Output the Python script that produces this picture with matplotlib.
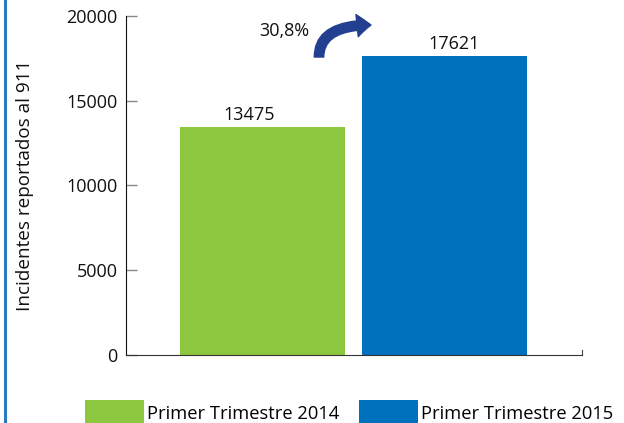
import matplotlib
matplotlib.use('Agg')
import matplotlib.pyplot as plt
from matplotlib.lines import Line2D

plt.rcParams['font.family'] = ['Open Sans', 'DejaVu Sans']

categorias = ['Primer Trimestre 2014', 'Primer Trimestre 2015']
incidentes = [13475, 17621]
colores = ['#8dc63f', '#0071bc']
variacion = '30,8%'
yticks = [0, 5000, 10000, 15000, 20000]

fig = plt.figure(figsize=(6.24, 4.23), dpi=100)
ax = fig.add_axes([126/624, 1-355/423, (582-126)/624, (355-16)/423])

pos = range(len(incidentes))
barras = ax.bar(pos, incidentes, width=0.907, color=colores, label=categorias)

# etiquetas de valor (ligeramente descentradas como en el original)
desplaz = [-9.8, 6.8]
for x, v, dx in zip(pos, incidentes, desplaz):
    ax.annotate(str(v), (x, v), xytext=(dx, 5), textcoords='offset points',
                ha='center', va='baseline', fontsize=13, color='#111111')

ax.set_xlim(-0.75, 1.755)
ax.set_ylim(0, 20000)
ax.set_yticks(yticks)
ax.set_xticks([])
ax.tick_params(axis='y', direction='in', length=8, width=1, color='#888888',
               labelsize=13, pad=6, labelcolor='#111111')
ax.set_ylabel('Incidentes reportados al 911', fontsize=13.6, labelpad=23, color='#111111')

ax.spines['top'].set_visible(False)
ax.spines['right'].set_bounds(0, 300)
ax.spines['right'].set_color('#444444')
ax.spines['left'].set_color('#111111')
ax.spines['bottom'].set_color('#333333')

# flecha curva y porcentaje
ax.annotate('', xy=(371, 398), xytext=(319, 366), xycoords='figure pixels',
            textcoords='figure pixels',
            arrowprops=dict(arrowstyle='simple,head_length=10,head_width=16,tail_width=6.8',
                            connectionstyle='angle3,angleA=90,angleB=0',
                            color='#233f8f', shrinkA=0, shrinkB=0, mutation_scale=1))
fig.text(309/624, 1-36/423, variacion, ha='right', va='baseline', fontsize=13, color='#111111')

# borde azul izquierdo
fig.add_artist(Line2D([5/624, 5/624], [0, 1], color='#2a7bbf', lw=2.2))

fig.legend(handles=barras, labels=categorias, loc='lower left', ncol=2,
           bbox_to_anchor=(85/624, -3/423), frameon=False, fontsize=13.2,
           borderpad=0, borderaxespad=0, handlelength=3.2, handleheight=1.8,
           handletextpad=0.2, columnspacing=1.05)

fig.savefig('out.png', dpi=100)
